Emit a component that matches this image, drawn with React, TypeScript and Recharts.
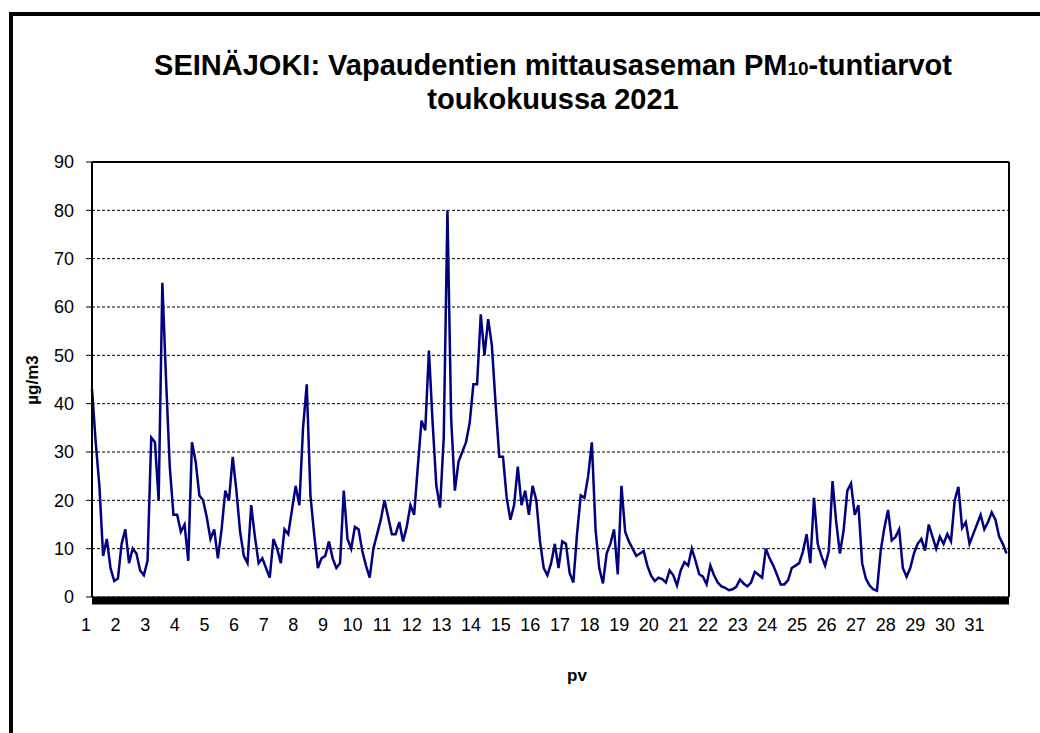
import { LineChart, Line, XAxis, YAxis, CartesianGrid, ReferenceLine } from "recharts";

// PM10 hourly values, Seinäjoki Vapaudentie, May 2021 (read every 3rd hour)
const hoursPerSample = 3;

const week1 = [
  43, 32, 23, 8.5, 12, 6, 3.3, 3.8,
  11, 14, 7, 10, 9, 5.5, 4.5, 7.5,
  33, 32, 20, 65, 45, 27, 17, 17,
  13.5, 15, 7.5, 32, 28, 21, 20, 16.5,
  12, 14, 8, 14, 22, 20, 29, 22,
  13.5, 8.5, 7, 19, 12.5, 7, 8, 6,
  4, 12, 10, 7, 14, 13, 18, 23,
];
const week2 = [
  19, 35, 44, 21, 13, 6, 8, 8.5,
  11.5, 8, 6, 7, 22, 12, 10, 14.5,
  14, 9.5, 6.5, 4, 10, 13, 16, 20,
  16.5, 13, 13, 15.5, 11.5, 14.5, 19, 17,
  27, 36.5, 34.5, 51, 36, 23, 18.5, 33,
  80, 37, 22, 28, 30, 32, 36, 44,
  44, 58.5, 50, 57.5, 52, 40, 29, 29,
];
const week3 = [
  20.5, 16, 19, 27, 19, 22, 17, 23,
  20, 11.5, 6, 4.5, 7, 11, 6, 11.5,
  11, 5, 3, 13, 21, 20.5, 25, 32,
  14, 6, 2.8, 9, 11, 14, 4.7, 23,
  13.5, 11.5, 10, 8.5, 9, 9.5, 6.5, 4.4,
  3.3, 4, 3.7, 3, 5.5, 4.5, 2.4, 5.5,
  7.2, 6.5, 10, 7.5, 4.7, 4.2, 2.6, 6.5,
];
const week4 = [
  4.5, 3, 2.2, 1.9, 1.4, 1.6, 2.1, 3.6,
  2.8, 2.2, 3, 5.2, 4.6, 4, 10, 8,
  6.5, 4.6, 2.6, 2.6, 3.5, 6, 6.5, 7,
  9.4, 13, 7, 20.5, 11, 8.5, 6.5, 9.5,
  24, 15.5, 9, 13.8, 22, 23.5, 17, 19,
  7, 3.8, 2.4, 1.6, 1.3, 9.5, 14.3, 18,
  11.7, 12.4, 14, 6, 4.2, 6, 9, 11,
];
const week5 = [
  12, 9.6, 15, 12.5, 10, 12.5, 11, 13,
  11.5, 20, 22.8, 14.3, 15.5, 11, 13, 15,
  17, 14, 15.5, 17.5, 16, 12.5, 11, 9,
];

const dayLabels = [
  1, 2, 3, 4, 5, 6, 7, 8, 9, 10, 11, 12, 13, 14, 15, 16,
  17, 18, 19, 20, 21, 22, 23, 24, 25, 26, 27, 28, 29, 30, 31,
];
const yTicks = [0, 10, 20, 30, 40, 50, 60, 70, 80, 90];

const pm10 = [...week1, ...week2, ...week3, ...week4, ...week5];
const data = pm10.map((v, i) => ({ hour: i * hoursPerSample, pm10: v }));
const dayTicks = dayLabels.map((d) => (d - 1) * 24);

const font = "Arial, 'Liberation Sans', sans-serif";

const DayTick = ({ x, y, payload }: any) => (
  <text x={x - 6} y={y + 26} textAnchor="middle" fontSize={18} fontFamily={font} fill="#000">
    {payload.value / 24 + 1}
  </text>
);

export default function App() {
  return (
    <div style={{ position: "relative", width: 1040, height: 733, overflow: "hidden", background: "#fff" }}>
      <style>{`body{margin:0}`}</style>
      <div
        style={{
          position: "absolute",
          left: 9,
          top: 12,
          width: 1100,
          height: 800,
          borderLeft: "4px solid #000",
          borderTop: "4px solid #000",
        }}
      />
      <div
        style={{
          position: "absolute",
          left: 0,
          width: 1106,
          top: 50,
          textAlign: "center",
          fontFamily: font,
          fontWeight: "bold",
          fontSize: 29,
          lineHeight: "31px",
          color: "#000",
        }}
      >
        SEINÄJOKI: Vapaudentien mittausaseman PM<span style={{ fontSize: 19 }}>10</span>-tuntiarvot
        <br />
        toukokuussa 2021
      </div>
      <div
        style={{
          position: "absolute",
          left: 33,
          top: 380,
          transform: "translate(-50%, -50%) rotate(-90deg)",
          fontFamily: font,
          fontWeight: "bold",
          fontSize: 17,
          whiteSpace: "nowrap",
        }}
      >
        µg/m3
      </div>
      <div
        style={{
          position: "absolute",
          left: 577,
          top: 676,
          transform: "translate(-50%, -50%)",
          fontFamily: font,
          fontWeight: "bold",
          fontSize: 17,
        }}
      >
        pv
      </div>
      <div style={{ position: "absolute", left: 0, top: 0 }}>
        <LineChart width={1040} height={733} data={data} margin={{ top: 162, right: 31, bottom: 106, left: 32 }}>
          <CartesianGrid horizontal vertical={false} stroke="#000" strokeDasharray="3 2" />
          <XAxis
            type="number"
            dataKey="hour"
            domain={[0, 743]}
            ticks={dayTicks}
            interval={0}
            tick={<DayTick />}
            tickLine={false}
            axisLine={{ stroke: "#000", strokeWidth: 8, transform: "translate(0,3.5)" }}
            height={30}
          />
          <YAxis
            domain={[0, 90]}
            ticks={yTicks}
            interval={0}
            width={60}
            tickSize={6}
            tickMargin={12}
            tickLine={{ stroke: "#000" }}
            axisLine={{ stroke: "#000", strokeWidth: 2 }}
            tick={{ fontSize: 18, fontFamily: font, fill: "#000" }}
          />
          <ReferenceLine y={90} stroke="#000" strokeWidth={2} />
          <ReferenceLine x={743} stroke="#000" strokeWidth={2} />
          <Line
            type="linear"
            dataKey="pm10"
            stroke="#000080"
            strokeWidth={2.5}
            dot={false}
            isAnimationActive={false}
          />
        </LineChart>
      </div>
    </div>
  );
}
